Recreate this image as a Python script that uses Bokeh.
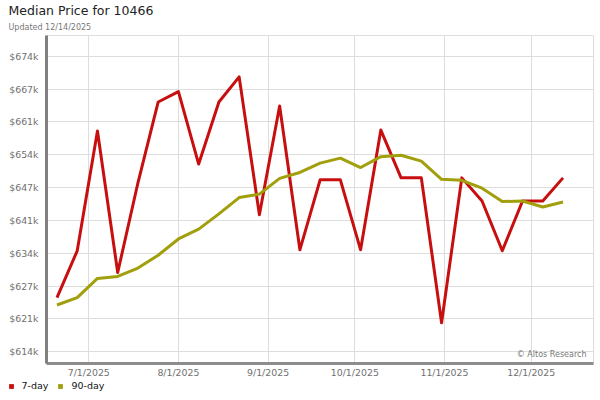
from datetime import datetime
import pandas as pd
from bokeh.plotting import figure
from bokeh.layouts import column
from bokeh.models import (ColumnDataSource, Range1d, FixedTicker, Label, Legend, LegendItem, Title)
from bokeh.embed import file_html
from bokeh.resources import INLINE

# ---- data ----
dates = ["2025-06-20", "2025-06-27", "2025-07-04", "2025-07-11", "2025-07-18", "2025-07-25",
         "2025-08-01", "2025-08-08", "2025-08-15", "2025-08-22", "2025-08-29", "2025-09-05",
         "2025-09-12", "2025-09-19", "2025-09-26", "2025-10-03", "2025-10-10", "2025-10-17",
         "2025-10-24", "2025-10-31", "2025-11-07", "2025-11-14", "2025-11-21", "2025-11-28",
         "2025-12-05", "2025-12-12"]
price_7day = [625000, 634500, 658800, 630100, 648300, 664700, 666800, 652100, 664700, 669800,
              641800, 663900, 634700, 648900, 648900, 634700, 659000, 649300, 649300, 619900,
              649300, 644600, 634500, 644600, 644600, 649300]
price_90day = [623500, 625000, 628900, 629300, 631000, 633600, 636900, 638900, 642000, 645300,
               646000, 649200, 650400, 652300, 653300, 651400, 653600, 653900, 652700, 649000,
               648800, 647200, 644500, 644600, 643400, 644400]
x_tick_dates = ["2025-07-01", "2025-08-01", "2025-09-01", "2025-10-01", "2025-11-01", "2025-12-01"]
x_tick_labels = ["7/1/2025", "8/1/2025", "9/1/2025", "10/1/2025", "11/1/2025", "12/1/2025"]
y_ticks = [614000, 620667, 627333, 634000, 640667, 647333, 654000, 660667, 667333, 674000]
y_tick_labels = ["$614k", "$621k", "$627k", "$634k", "$641k", "$647k", "$654k", "$661k", "$667k", "$674k"]
series_names = ["7-day", "90-day"]
title_text = "Median Price for 10466"
subtitle_text = "Updated 12/14/2025"
credit_text = "\u00a9 Altos Research"

RED = "#c80f0f"
OLIVE = "#a19f0b"
FONT = "DejaVu Sans"

src = ColumnDataSource(dict(date=pd.to_datetime(dates), d7=price_7day, d90=price_90day))

# ---- main chart ----
p = figure(x_axis_type="datetime", output_backend="svg", toolbar_location=None, title=None,
           width=600, height=380,
           min_border_left=46, min_border_right=7, min_border_top=35, min_border_bottom=16,
           x_range=Range1d(datetime(2025, 6, 16, 9), datetime(2025, 12, 22, 13)),
           y_range=Range1d(611630, 678190))
p.background_fill_color = "white"
p.border_fill_color = "white"
p.outline_line_color = "#dddddd"
p.outline_line_width = 1

p.line("date", "d7", source=src, line_color=RED, line_width=3, line_join="round")
p.line("date", "d90", source=src, line_color=OLIVE, line_width=3, line_join="round")

x_ms = [int(pd.Timestamp(d).timestamp() * 1000) for d in x_tick_dates]
p.xaxis.ticker = FixedTicker(ticks=x_ms)
p.xaxis.major_label_overrides = {t: s for t, s in zip(x_ms, x_tick_labels)}
p.yaxis.ticker = FixedTicker(ticks=y_ticks)
p.yaxis.major_label_overrides = {t: s for t, s in zip(y_ticks, y_tick_labels)}

for ax in (p.xaxis[0], p.yaxis[0]):
    ax.axis_label = None
    ax.axis_label_standoff = 0
    ax.major_tick_out = 0
    ax.major_tick_in = 0
    ax.minor_tick_out = 0
    ax.minor_tick_in = 0
    ax.major_label_text_font = FONT
    ax.major_label_text_font_size = "9.4px"
    ax.major_label_text_color = "#707070"
    ax.axis_line_width = 3
p.yaxis.axis_line_color = "#808080"
p.xaxis.axis_line_color = "#8c8c8c"
p.yaxis.major_label_standoff = 8
p.xaxis.major_label_standoff = 3

p.xgrid.grid_line_color = "#dddddd"
p.ygrid.grid_line_color = "#dddddd"
p.xgrid.ticker = p.xaxis.ticker
p.ygrid.ticker = p.yaxis.ticker

p.add_layout(Title(text=subtitle_text, align="left", offset=-38, standoff=7,
                   text_font=FONT, text_font_size="8px", text_font_style="normal",
                   text_color="#777777"), "above")
p.add_layout(Title(text=title_text, align="left", offset=-38, standoff=0,
                   text_font=FONT, text_font_size="12.5px", text_font_style="normal",
                   text_color="#222222"), "above")

p.add_layout(Label(x=540, y=9.5, x_units="screen", y_units="screen", text=credit_text,
                   text_font=FONT, text_font_size="8px", text_color="#777777",
                   text_align="right", text_baseline="middle"))

# ---- legend strip ----
lf = figure(width=600, height=20, output_backend="svg", toolbar_location=None,
            x_axis_location=None, y_axis_location=None,
            min_border_left=0, min_border_right=0, min_border_top=0, min_border_bottom=0,
            x_range=Range1d(0, 1), y_range=Range1d(0, 1))
lf.outline_line_color = None
lf.background_fill_color = "white"
lf.border_fill_color = "white"
lf.grid.visible = False

legend_x = 5 - 46  # default: strip frame aligned with the chart frame
if "frame_align" in lf.properties():
    lf.frame_align = False
    p.frame_align = False
    legend_x = 4.5

s7 = lf.scatter("date", "d7", source=src, marker="square", fill_color=RED, line_color=None, visible=False)
s90 = lf.scatter("date", "d90", source=src, marker="square", fill_color=OLIVE, line_color=None, visible=False)

legend = Legend(items=[LegendItem(label=series_names[0], renderers=[s7]),
                       LegendItem(label=series_names[1], renderers=[s90])],
                location=(legend_x, 8.5), orientation="horizontal",
                glyph_width=12, glyph_height=12, label_height=12, label_width=10,
                label_standoff=5, spacing=6, padding=0, margin=0,
                border_line_color=None, background_fill_alpha=0,
                label_text_font=FONT, label_text_font_size="9.5px", label_text_color="#111111",
                inactive_fill_alpha=0)
lf.add_layout(legend, "center")

open("out.html", "w").write(file_html(column(p, lf, spacing=0), INLINE))
